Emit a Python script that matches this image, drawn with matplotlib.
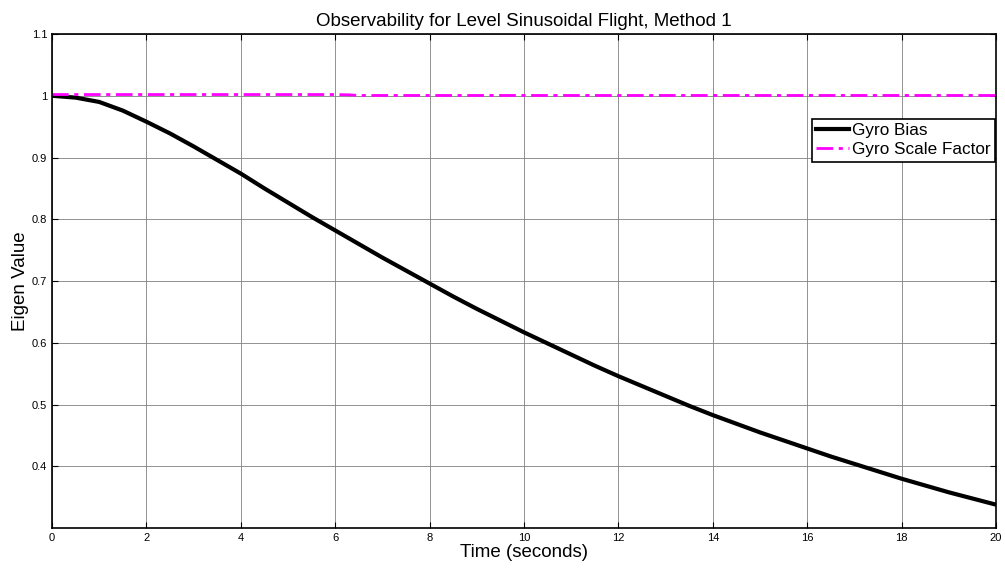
import matplotlib
matplotlib.use("Agg")
import matplotlib.pyplot as plt
import numpy as np

plt.rcParams['font.family'] = ['Liberation Sans', 'DejaVu Sans']

# values
t = [0, 0.5, 1, 1.5, 2, 2.5, 3, 3.5, 4, 4.5, 5, 5.5, 6, 6.5, 7, 7.5, 8, 8.5, 9, 9.5,
     10, 10.5, 11, 11.5, 12, 12.5, 13, 13.5, 14, 14.5, 15, 15.5, 16, 16.5, 17, 17.5,
     18, 18.5, 19, 19.5, 20]
gyro_bias = [1.0, 0.997, 0.990, 0.976, 0.958, 0.939, 0.918, 0.896, 0.874, 0.850,
             0.827, 0.804, 0.782, 0.760, 0.738, 0.717, 0.696, 0.675, 0.655, 0.636,
             0.617, 0.599, 0.581, 0.563, 0.546, 0.530, 0.514, 0.498, 0.483, 0.469,
             0.455, 0.442, 0.429, 0.416, 0.404, 0.392, 0.380, 0.369, 0.358, 0.348, 0.338]
t_sf = [0, 2, 4, 6, 6.3, 6.5, 8, 10, 12, 14, 16, 18, 20]
gyro_sf = [1.002, 1.002, 1.002, 1.002, 1.0015, 1.0005, 1.0005, 1.0005, 1.0005,
           1.0005, 1.0005, 1.0005, 1.0005]

xticks = np.arange(0, 21, 2)
yticks = [0.4, 0.5, 0.6, 0.7, 0.8, 0.9, 1, 1.1]
ytick_labels = ['0.4', '0.5', '0.6', '0.7', '0.8', '0.9', '1', '1.1']

fig = plt.figure(figsize=(10.05, 5.69), dpi=100)
ax = fig.add_axes([52/1005, 1 - 527.7/569, 944/1005, 493.7/569])

ax.plot(t, gyro_bias, color='black', linewidth=3, label='Gyro Bias')
ax.plot(t_sf, gyro_sf, color='#ff00ff', linewidth=2, linestyle='-.',
        dashes=(6, 2, 1.5, 2), label='Gyro Scale Factor')

ax.set_xlim(0, 20)
ax.set_ylim(0.3007, 1.1)
ax.set_xticks(xticks)
ax.set_xticklabels([str(v) for v in xticks])
ax.set_yticks(yticks)
ax.set_yticklabels(ytick_labels)
ax.tick_params(direction='in', length=4, labelsize=8, top=True, right=True, width=0.8)
ax.grid(True, color='#808080', linewidth=0.6)
for s in ax.spines.values():
    s.set_linewidth(1.2)

ax.set_title('Observability for Level Sinusoidal Flight, Method 1', fontsize=13.5, pad=6)
ax.set_xlabel('Time (seconds)', fontsize=13.5, labelpad=1)
ax.set_ylabel('Eigen Value', fontsize=13.5, labelpad=2)

leg = ax.legend(loc='upper right', bbox_to_anchor=(0.999, 0.828), fontsize=12.3,
                fancybox=False, framealpha=1, edgecolor='black', borderpad=0.25,
                handlelength=1.9, handletextpad=0.2, labelspacing=0.25,
                borderaxespad=0)
leg.get_frame().set_linewidth(1.2)

fig.savefig('out.png', dpi=100)
